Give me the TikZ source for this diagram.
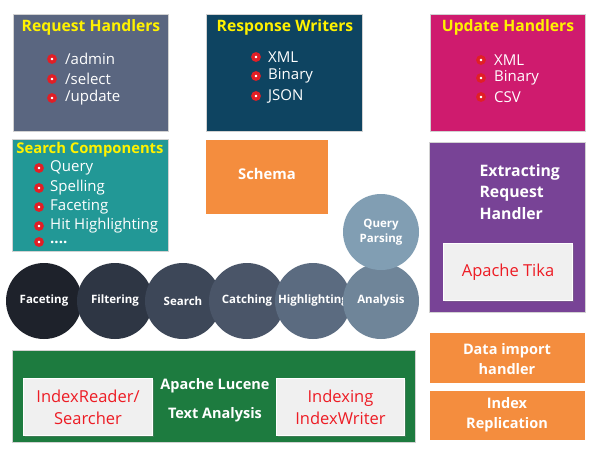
\documentclass[tikz,border=0pt]{standalone}
\usepackage{fontspec}
\setmainfont{Open Sans}
\usepackage{tikz}
\usetikzlibrary{positioning,shadows}

\definecolor{reqgray}{HTML}{5A6680}
\definecolor{respblue}{HTML}{0E4461}
\definecolor{updpink}{HTML}{CF1B6E}
\definecolor{searchteal}{HTML}{229896}
\definecolor{schemaorange}{HTML}{F48D3E}
\definecolor{extpurple}{HTML}{784396}
\definecolor{lucenegreen}{HTML}{1D7B3F}
\definecolor{titleyellow}{HTML}{FFF200}
\definecolor{bulletred}{HTML}{E01F26}
\definecolor{tikared}{HTML}{ED1C24}
\definecolor{stageA}{HTML}{1E222B}
\definecolor{stageB}{HTML}{2E3644}
\definecolor{stageC}{HTML}{3D4758}
\definecolor{stageD}{HTML}{4A5568}
\definecolor{stageE}{HTML}{5B6B80}
\definecolor{stageF}{HTML}{6F8599}
\definecolor{stageG}{HTML}{819EB3}

\begin{document}
\begin{tikzpicture}[
  x=1pt, y=-1pt,
  panel/.style={rectangle, draw=gray!35, line width=0.5pt, anchor=north west,
                inner sep=0pt},
  paneltitle/.style={text=titleyellow, font=\fontsize{15.7}{17}\selectfont\bfseries},
  item/.style={text=white, anchor=west, inner sep=0pt,
               font=\fontsize{15}{17}\selectfont},
  bulletdot/.style={circle, draw=bulletred, fill=white, line width=3.3pt,
                    minimum size=6.3pt, inner sep=0pt},
  boxtext/.style={text=white, align=center,
                  font=\fontsize{14.5}{20}\selectfont\bfseries},
  stage/.style={circle, minimum size=76pt, inner sep=0pt, text=white,
                font=\fontsize{11.5}{15}\selectfont\bfseries, align=center},
  keybox/.style={rectangle, fill=gray!12, draw=white, line width=1pt,
                 drop shadow={opacity=0.35, shadow xshift=1pt, shadow yshift=-1pt},
                 text=tikared, align=center, anchor=north west,
                 font=\fontsize{16.5}{22}\selectfont},
]
\useasboundingbox[fill=white] (0,0) rectangle (594,448);

\node[panel, fill=reqgray, minimum width=155pt, minimum height=117pt] (req) at (13,14) {};
\node[paneltitle] (reqtitle) at (91,27) {Request Handlers};
\node[item] (req1) at (65,59) {/admin};
\node[item] (req2) at (65,79) {/select};
\node[item] (req3) at (65,98) {/update};
\node[bulletdot] (req1d) at (52,59) {};
\node[bulletdot] (req2d) at (52,79) {};
\node[bulletdot] (req3d) at (52,98) {};

\node[panel, fill=respblue, minimum width=156pt, minimum height=117pt] (resp) at (206,14) {};
\node[paneltitle] (resptitle) at (285,27) {Response Writers};
\node[item] (resp1) at (268,57) {XML};
\node[item] (resp2) at (268,76) {Binary};
\node[item] (resp3) at (268,96) {JSON};
\node[bulletdot] (resp1d) at (256,57) {};
\node[bulletdot] (resp2d) at (256,76) {};
\node[bulletdot] (resp3d) at (256,96) {};

\node[panel, fill=updpink, minimum width=155pt, minimum height=117pt] (upd) at (430,14) {};
\node[paneltitle] (updtitle) at (508,27) {Update Handlers};
\node[item] (upd1) at (494,60) {XML};
\node[item] (upd2) at (494,78) {Binary};
\node[item] (upd3) at (494,97) {CSV};
\node[bulletdot] (upd1d) at (481,60) {};
\node[bulletdot] (upd2d) at (481,78) {};
\node[bulletdot] (upd3d) at (481,97) {};

\node[panel, fill=searchteal, minimum width=156pt, minimum height=112pt] (srch) at (12,139) {};
\node[paneltitle, font=\fontsize{14.8}{16}\selectfont\bfseries] (srchtitle) at (90,150) {Search Components};
\node[item] (srch1) at (50,168) {Query};
\node[item] (srch2) at (50,188) {Spelling};
\node[item] (srch3) at (50,207) {Faceting};
\node[item] (srch4) at (50,226) {Hit Highlighting};
\node[item, text height=3pt, text depth=0pt] (srch5) at (50,242) {\textbf{....}};
\node[bulletdot] (srch1d) at (39,168) {};
\node[bulletdot] (srch2d) at (39,188) {};
\node[bulletdot] (srch3d) at (39,207) {};
\node[bulletdot] (srch4d) at (39,226) {};
\node[bulletdot] (srch5d) at (39,242) {};

\node[panel, fill=schemaorange, draw=none, minimum width=122pt, minimum height=74pt] (schema) at (206,140) {};
\node[boxtext, font=\fontsize{14.8}{20}\selectfont\bfseries] (schematext) at (267,174) {Schema};

\node[panel, fill=extpurple, minimum width=156pt, minimum height=170pt] (ext) at (429,142) {};
\node[boxtext, align=left, anchor=west,
      font=\fontsize{15.8}{21.5}\selectfont\bfseries] (exttext) at (476,192) {Extracting\\Request\\Handler};
\node[keybox, minimum width=129pt, minimum height=57pt] (tika) at (443,243) {Apache Tika};

\node[stage, fill=stageA] (facet)  at (44,301)  {Faceting};
\node[stage, fill=stageB] (filter) at (115,301) {Filtering};
\node[stage, fill=stageC] (search) at (183,301) {Search};
\node[stage, fill=stageD] (catch)  at (247,301) {Catching};
\node[stage, fill=stageE] (hilite) at (313,301) {Highlighting};
\node[stage, fill=stageF] (anlys)  at (381,301) {Analysis};
\node[stage, fill=stageG] (qparse) at (381,232) {Query\\Parsing};

\node[panel, fill=lucenegreen, minimum width=403pt, minimum height=92pt] (lucene) at (12,350) {};
\node[keybox, minimum width=129pt, minimum height=57pt] (reader) at (23,378) {IndexReader/\\Searcher};
\node[keybox, minimum width=128pt, minimum height=57pt] (writer) at (276,378) {Indexing\\IndexWriter};
\node[boxtext, font=\fontsize{14.5}{29}\selectfont\bfseries] (lucenetext) at (215,400) {Apache Lucene\\Text Analysis};

\node[panel, fill=schemaorange, draw=none, minimum width=155pt, minimum height=50pt] (dih) at (430,333) {};
\node[boxtext] (dihtext) at (507,359) {Data import\\handler};
\node[panel, fill=schemaorange, draw=none, minimum width=155pt, minimum height=49pt] (repl) at (430,391) {};
\node[boxtext] (repltext) at (507,415) {Index\\Replication};
\end{tikzpicture}
\end{document}
